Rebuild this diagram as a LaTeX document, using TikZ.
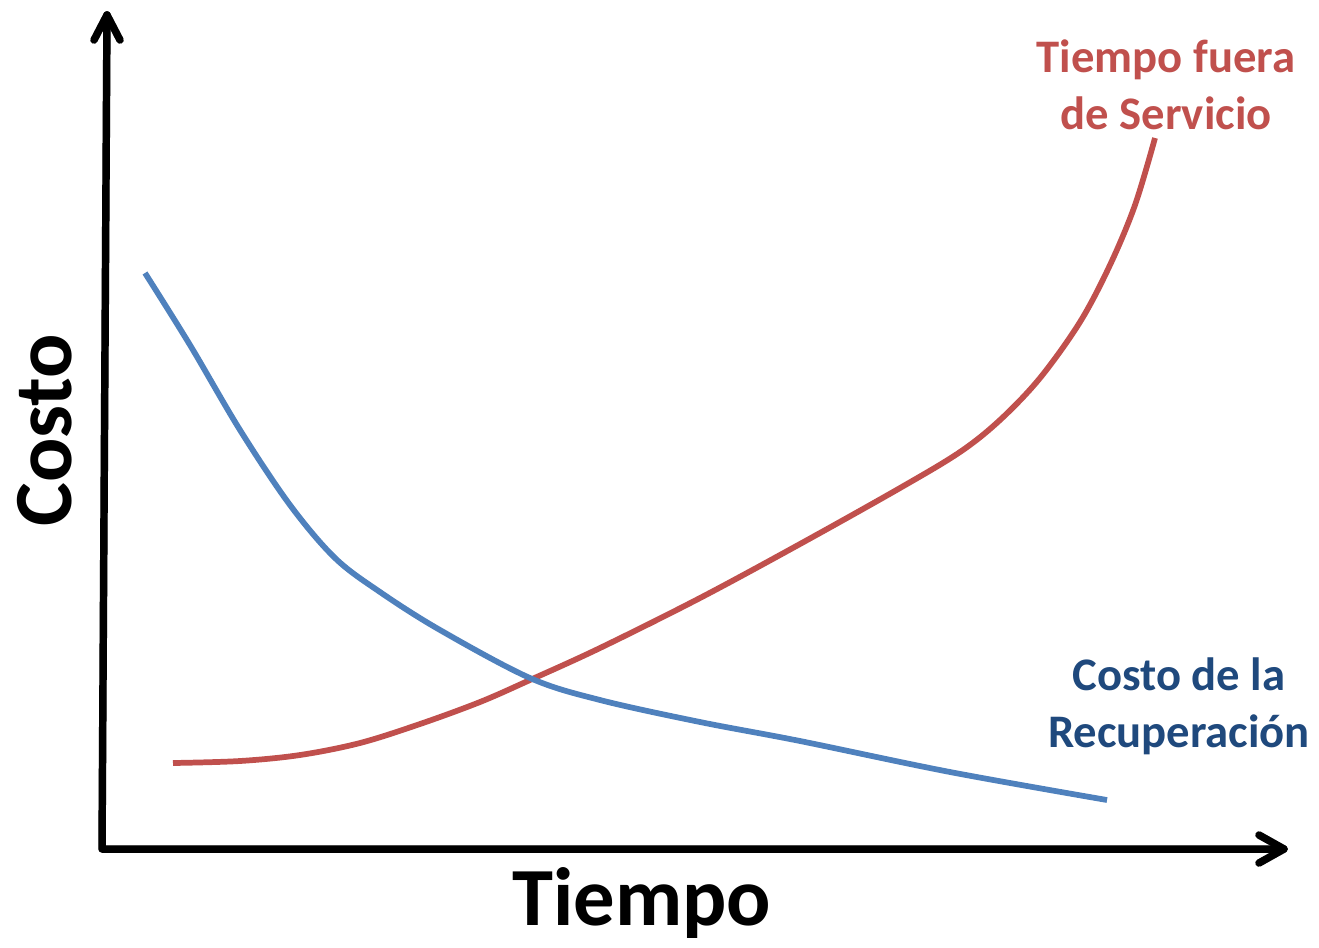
\documentclass[tikz,border=0pt]{standalone}
\usepackage{fontspec}
\setmainfont{Carlito}
\definecolor{redc}{HTML}{C0504D}
\definecolor{bluec}{HTML}{4F81BD}
\definecolor{bluet}{HTML}{1F497D}
\begin{document}
\begin{tikzpicture}[x=0.75pt,y=-0.75pt,
  axis/.style={line width=5.6pt,line cap=round,line join=round,black},
  axisshadow/.style={line width=5.6pt,line cap=round,line join=round,black,opacity=0.15},
  curve/.style={line width=4.3pt},
  bigt/.style={font=\fontsize{62}{70}\selectfont\bfseries,inner sep=0pt},
  smallt/.style={font=\fontsize{35}{43}\selectfont\bfseries,align=center,inner sep=0pt}]
\useasboundingbox (0,0) rectangle (1319,947);
% coordinates
\coordinate (o) at (102,849);
\coordinate (ytip) at (107,15);
\coordinate (yb1) at (94,40);
\coordinate (yb2) at (120,40);
\coordinate (xtip) at (1284,849);
\coordinate (xb1) at (1259,835);
\coordinate (xb2) at (1259,863);
% axis shadows
\foreach \d in {2,3.5}{
\begin{scope}[shift={(\d,\d)}]
\draw[axisshadow] (yb1) -- (ytip) -- (yb2);
\draw[axisshadow] (ytip) -- (o) -- (xtip);
\draw[axisshadow] (xb1) -- (xtip) -- (xb2);
\end{scope}}
% axes
\draw[axis] (ytip) -- (o) -- (xtip);
\draw[axis] (yb1) -- (ytip) -- (yb2);
\draw[axis] (xb1) -- (xtip) -- (xb2);
% curves
\draw[curve,redc] plot[smooth,tension=0.55] coordinates {(173,763) (240,761) (300,755) (360,743) (420,724) (480,702) (530,680) (600,648) (700,598) (800,544) (900,488) (960,452) (1000,420) (1040,378) (1080,322) (1110,265) (1135,205) (1155,138)};
\draw[curve,bluec] plot[smooth,tension=0.55] coordinates {(145,273) (190,345) (240,430) (290,505) (335,558) (380,592) (440,630) (530,678) (600,700) (700,722) (800,741) (950,772) (1107,800)};
% labels
\node[bigt] (tiempo) at (642,903) {Tiempo};
\node[bigt,rotate=90] (costo) at (45,430) {Costo};
\node[smallt,text=redc] (tfs) at (1166,85) {Tiempo fuera\\de Servicio};
\node[smallt,text=bluet] (cdr) at (1179,706) {Costo de la\\Recuperación};
\end{tikzpicture}
\end{document}
